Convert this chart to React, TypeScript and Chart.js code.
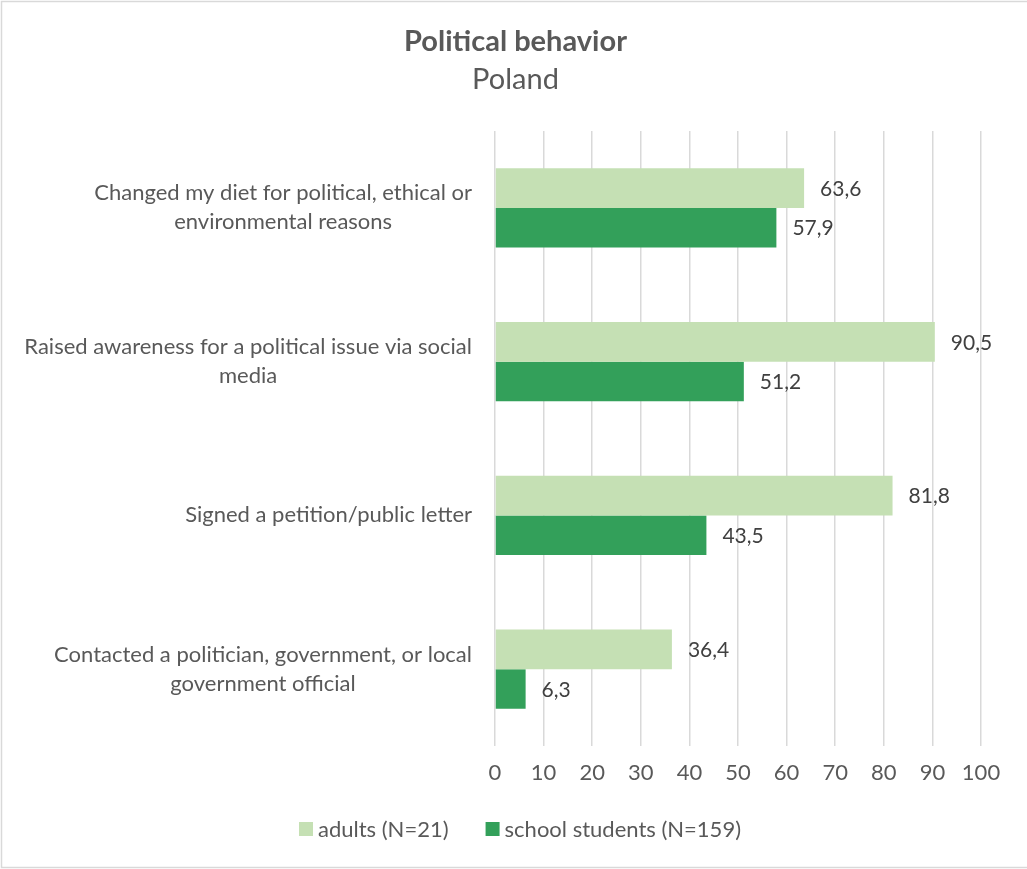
import React, { useEffect, useRef } from "react";
import { Chart, registerables } from "chart.js";

Chart.register(...registerables);

const TITLE = "Political behavior";
const SUBTITLE = "Poland";
const categories: string[][] = [
  ["Changed my diet for political, ethical or", "environmental reasons"],
  ["Raised awareness for a political issue via social", "media"],
  ["Signed a petition/public letter"],
  ["Contacted a politician, government, or local", "government official"],
];
const seriesNames = ["adults (N=21)", "school students (N=159)"];
const adults = [63.6, 90.5, 81.8, 36.4];
const students = [57.9, 51.2, 43.5, 6.3];
const xMin = 0;
const xMax = 100;
const xStep = 10;

const COLORS = ["#c5e0b4", "#33a05a"];
const TEXT = "#595959";
const FONT = "Lato, 'Open Sans', sans-serif";

const decorPlugin = {
  id: "decor",
  afterDraw(chart: any) {
    const ctx = chart.ctx;
    const W = chart.width;
    ctx.save();
    // border
    ctx.strokeStyle = "#d9d9d9";
    ctx.lineWidth = 1.5;
    ctx.strokeRect(1.5, 1.5, W + 10, 866);
    // title
    ctx.fillStyle = TEXT;
    ctx.textAlign = "center";
    ctx.textBaseline = "middle";
    ctx.font = `bold 29px ${FONT}`;
    ctx.fillText(TITLE, W / 2 + 2, 42);
    ctx.font = `29px ${FONT}`;
    ctx.fillText(SUBTITLE, W / 2 + 2, 80);

    // y category labels (block right-aligned, lines centered)
    const yScale = chart.scales.y;
    const right = chart.chartArea.left - 23;
    ctx.font = `22px ${FONT}`;
    const lh = 29;
    categories.forEach((lines, i) => {
      const cy = yScale.getPixelForValue(i);
      const maxW = Math.max(...lines.map((l) => ctx.measureText(l).width));
      const cx = right - maxW / 2;
      const y0 = cy - ((lines.length - 1) * lh) / 2;
      lines.forEach((l, j) => ctx.fillText(l, cx, y0 + j * lh));
    });

    // data labels
    ctx.textAlign = "left";
    ctx.fillStyle = "#404040";
    ctx.font = `21px ${FONT}`;
    chart.data.datasets.forEach((ds: any, di: number) => {
      const meta = chart.getDatasetMeta(di);
      meta.data.forEach((bar: any, i: number) => {
        const v = ds.data[i];
        ctx.fillText(v.toFixed(1).replace(".", ","), bar.x + 16, bar.y + 1);
      });
    });

    // legend
    ctx.font = `22px ${FONT}`;
    const box = 14;
    const gap = 5;
    const itemGap = 37;
    const widths = chart.data.datasets.map(
      (ds: any) => box + gap + ctx.measureText(ds.label).width
    );
    const total = widths.reduce((a: number, b: number) => a + b, 0) + itemGap * (widths.length - 1);
    let x = 520 - total / 2;
    const ly = 829;
    chart.data.datasets.forEach((ds: any, di: number) => {
      ctx.fillStyle = ds.backgroundColor;
      ctx.fillRect(x, ly - box / 2, box, box);
      ctx.fillStyle = TEXT;
      ctx.textAlign = "left";
      ctx.fillText(ds.label, x + box + gap, ly + 1);
      x += widths[di] + itemGap;
    });
    ctx.restore();
  },
};

export default function App() {
  const ref = useRef<HTMLCanvasElement>(null);
  useEffect(() => {
    document.body.style.margin = "0";
    const chart = new Chart(ref.current!, {
      type: "bar",
      data: {
        labels: categories.map((c) => c.join(" ")),
        datasets: [
          { label: seriesNames[0], data: adults, backgroundColor: COLORS[0] },
          { label: seriesNames[1], data: students, backgroundColor: COLORS[1] },
        ],
      },
      options: {
        indexAxis: "y",
        animation: false,
        responsive: false,
        events: [],
        categoryPercentage: 0.515,
        barPercentage: 1,
        layout: { padding: { top: 131, left: 10, right: 46, bottom: 73 } },
        plugins: {
          legend: { display: false },
          title: { display: false },
          tooltip: { enabled: false },
        },
        scales: {
          x: {
            min: xMin,
            max: xMax,
            ticks: {
              stepSize: xStep,
              color: TEXT,
              font: { family: FONT, size: 22 },
              padding: 14,
            },
            grid: { color: "#d9d9d9", lineWidth: 1.5, drawTicks: false },
            border: { display: false },
            afterFit: (s: any) => {
              s.height = 50;
            },
          },
          y: {
            ticks: { display: false },
            grid: { display: false, drawTicks: false },
            border: { display: false },
            afterFit: (s: any) => {
              s.width = 485;
            },
          },
        },
      },
      plugins: [decorPlugin],
    });
    return () => chart.destroy();
  }, []);
  return (
    <div style={{ position: "absolute", left: 0, top: 0, width: 1027, height: 869 }}>
      <canvas ref={ref} width={1027} height={869} />
    </div>
  );
}
